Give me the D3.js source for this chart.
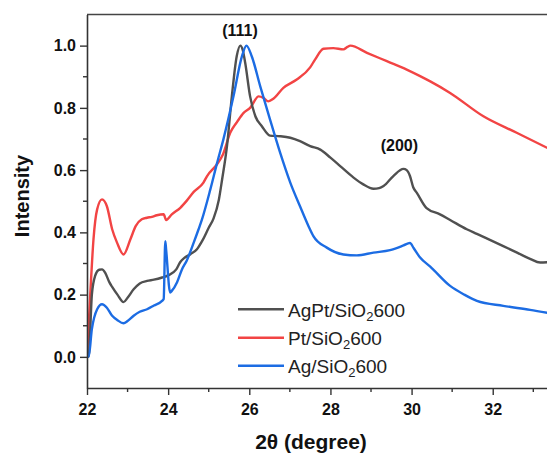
<!DOCTYPE html>
<html>
<head>
<meta charset="utf-8">
<script src="https://cdn.jsdelivr.net/npm/d3@7"></script>
<style>
  html, body { margin: 0; padding: 0; background: #fff; }
  svg { display: block; font-family: "Liberation Sans", Arial, sans-serif; }
</style>
</head>
<body>
<svg id="chart" width="547" height="455"></svg>
<script>
// XRD patterns (normalised intensity vs 2θ)
const agptX = [22.0, 22.04, 22.12, 22.2, 22.3, 22.37, 22.45, 22.55, 22.62, 22.75, 22.9, 23.0, 23.15, 23.3, 23.48, 23.65, 23.85, 24.0, 24.2, 24.3, 24.4, 24.55, 24.71, 24.85, 25.0, 25.12, 25.25, 25.33, 25.45, 25.57, 25.69, 25.78, 25.84, 25.9, 26.02, 26.15, 26.31, 26.51, 26.76, 27.01, 27.25, 27.5, 27.75, 28.0, 28.24, 28.57, 28.8, 29.06, 29.2, 29.31, 29.55, 29.8, 29.88, 29.96, 30.04, 30.13, 30.37, 30.7, 30.95, 31.36, 31.61, 32.26, 32.6, 32.92, 33.17, 33.4];
const agptY = [0.0, 0.0, 0.2, 0.26, 0.28, 0.281, 0.27, 0.24, 0.225, 0.2, 0.176, 0.19, 0.217, 0.236, 0.244, 0.248, 0.255, 0.262, 0.281, 0.305, 0.318, 0.33, 0.346, 0.375, 0.415, 0.445, 0.505, 0.57, 0.677, 0.837, 0.966, 1.0, 0.985, 0.944, 0.837, 0.773, 0.741, 0.711, 0.709, 0.704, 0.693, 0.677, 0.666, 0.64, 0.613, 0.576, 0.555, 0.54, 0.542, 0.549, 0.581, 0.604, 0.6, 0.581, 0.545, 0.527, 0.478, 0.458, 0.44, 0.41, 0.395, 0.356, 0.335, 0.315, 0.303, 0.305];

const ptX = [22.0, 22.08, 22.16, 22.25, 22.37, 22.49, 22.62, 22.74, 22.9, 23.07, 23.2, 23.35, 23.48, 23.6, 23.72, 23.89, 23.95, 24.09, 24.3, 24.46, 24.63, 24.87, 24.96, 25.2, 25.35, 25.53, 25.7, 25.86, 26.02, 26.23, 26.35, 26.47, 26.6, 26.84, 27.17, 27.5, 27.62, 27.83, 28.07, 28.32, 28.42, 28.49, 28.9, 29.39, 29.88, 30.21, 30.46, 30.95, 31.77, 32.59, 33.4];
const ptY = [0.0, 0.2, 0.378, 0.474, 0.506, 0.484, 0.41, 0.367, 0.329, 0.378, 0.42, 0.442, 0.447, 0.45, 0.455, 0.458, 0.44, 0.458, 0.479, 0.502, 0.53, 0.56, 0.581, 0.618, 0.65, 0.72, 0.755, 0.784, 0.8, 0.837, 0.832, 0.821, 0.83, 0.864, 0.891, 0.93, 0.955, 0.99, 0.992, 0.988, 0.996, 1.0, 0.977, 0.95, 0.923, 0.902, 0.885, 0.848, 0.773, 0.72, 0.668];

const agX = [22.0, 22.04, 22.12, 22.25, 22.37, 22.49, 22.62, 22.75, 22.9, 23.0, 23.15, 23.3, 23.48, 23.65, 23.85, 23.89, 23.93, 23.95, 24.05, 24.09, 24.22, 24.34, 24.46, 24.63, 24.75, 24.83, 25.04, 25.2, 25.36, 25.61, 25.82, 25.93, 26.06, 26.27, 26.51, 26.76, 27.01, 27.25, 27.46, 27.58, 27.91, 28.32, 28.65, 29.06, 29.47, 29.8, 29.96, 30.05, 30.21, 30.46, 30.95, 31.3, 31.61, 32.26, 32.92, 33.4];
const agY = [0.0, 0.0, 0.089, 0.153, 0.169, 0.158, 0.132, 0.118, 0.108, 0.115, 0.132, 0.145, 0.153, 0.165, 0.18, 0.186, 0.372, 0.345, 0.207, 0.212, 0.24, 0.281, 0.31, 0.367, 0.41, 0.44, 0.538, 0.62, 0.698, 0.837, 0.966, 1.0, 0.966, 0.869, 0.763, 0.656, 0.56, 0.484, 0.42, 0.388, 0.351, 0.329, 0.326, 0.335, 0.343, 0.358, 0.366, 0.35, 0.319, 0.29, 0.228, 0.2, 0.18, 0.164, 0.151, 0.14];

const seriesNames = ["AgPt/SiO|2|600", "Pt/SiO|2|600", "Ag/SiO|2|600"];
const seriesColors = ["#505050", "#f24444", "#1c6ce3"];

const xTicks = [22, 24, 26, 28, 30, 32];
const xMinorTicks = [23, 25, 27, 29, 31, 33];
const yTicks = [0.0, 0.2, 0.4, 0.6, 0.8, 1.0];
const yMinorTicks = [0.1, 0.3, 0.5, 0.7, 0.9];

const peakLabels = ["(111)", "(200)"];
const peakPos = [[25.77, 1.03], [29.7, 0.66]];

const svg = d3.select("#chart");
const plotLeft = 87, plotRight = 547.5, plotTop = 14.5, plotBottom = 388;

const x = d3.scaleLinear().domain([22, 33.35]).range([plotLeft, plotRight]);
const y = d3.scaleLinear().domain([-0.1, 1.1]).range([plotBottom, plotTop]);

svg.append("defs").append("clipPath").attr("id", "plotclip")
  .append("rect").attr("x", plotLeft).attr("y", plotTop)
  .attr("width", plotRight - plotLeft).attr("height", plotBottom - plotTop);

// frame: top border
svg.append("line")
  .attr("x1", plotLeft).attr("x2", 547).attr("y1", plotTop).attr("y2", plotTop)
  .attr("stroke", "#444").attr("stroke-width", 1.5);

// curves
const data = [
  d3.zip(agptX, agptY),
  d3.zip(ptX, ptY),
  d3.zip(agX, agY)
];
const line = d3.line().x(d => x(d[0])).y(d => y(d[1])).curve(d3.curveMonotoneX);
const g = svg.append("g").attr("clip-path", "url(#plotclip)");
// red first, then gray, then blue on top
[1, 0, 2].forEach(i => {
  g.append("path")
    .datum(data[i])
    .attr("d", line)
    .attr("fill", "none")
    .attr("stroke", seriesColors[i])
    .attr("stroke-width", 2.4)
    .attr("stroke-linejoin", "round");
});

// axes
const xAxis = d3.axisBottom(x).tickValues(xTicks).tickFormat(d3.format("d")).tickSize(7).tickSizeOuter(0).tickPadding(9);
const gx = svg.append("g").attr("transform", `translate(0,${plotBottom})`).call(xAxis);
const yAxis = d3.axisLeft(y).tickValues(yTicks).tickFormat(d3.format(".1f")).tickSize(7).tickSizeOuter(0).tickPadding(4);
const gy = svg.append("g").attr("transform", `translate(${plotLeft},0)`).call(yAxis);

[gx, gy].forEach(a => {
  a.select(".domain").attr("stroke", "#333").attr("stroke-width", 1.6);
  a.selectAll(".tick line").attr("stroke", "#333").attr("stroke-width", 1.4);
  a.selectAll(".tick text")
    .attr("fill", "#111")
    .style("font-family", "'Liberation Sans', Arial, sans-serif")
    .style("font-size", "16px")
    .style("font-weight", "bold");
});
gx.select(".domain").attr("d", `M${plotLeft},0.5H547`);

// minor ticks
svg.append("g").selectAll("line").data(xMinorTicks).join("line")
  .attr("x1", d => x(d)).attr("x2", d => x(d))
  .attr("y1", plotBottom).attr("y2", plotBottom + 4)
  .attr("stroke", "#333").attr("stroke-width", 1.4);
svg.append("g").selectAll("line").data(yMinorTicks).join("line")
  .attr("x1", plotLeft - 4).attr("x2", plotLeft)
  .attr("y1", d => y(d)).attr("y2", d => y(d))
  .attr("stroke", "#333").attr("stroke-width", 1.4);

// axis titles
svg.append("text")
  .attr("x", 311).attr("y", 449)
  .attr("text-anchor", "middle")
  .style("font-size", "21px").style("font-weight", "bold").attr("fill", "#111")
  .text("2θ (degree)");
svg.append("text")
  .attr("transform", "translate(29,196) rotate(-90)")
  .attr("text-anchor", "middle")
  .style("font-size", "20px").style("font-weight", "bold").attr("fill", "#111")
  .text("Intensity");

// peak labels
svg.append("g").selectAll("text").data(peakLabels).join("text")
  .attr("x", (d, i) => x(peakPos[i][0]))
  .attr("y", (d, i) => y(peakPos[i][1]))
  .attr("text-anchor", "middle")
  .style("font-size", "16px").style("font-weight", "bold").attr("fill", "#111")
  .text(d => d);

// legend
const legendRows = [309.3, 337.7, 365.7];
const lg = svg.append("g");
seriesNames.forEach((name, i) => {
  const yy = legendRows[i];
  lg.append("line")
    .attr("x1", 238).attr("x2", 284).attr("y1", yy).attr("y2", yy)
    .attr("stroke", seriesColors[i]).attr("stroke-width", 2.6);
  const parts = name.split("|");
  const t = lg.append("text")
    .attr("x", 288).attr("y", yy + 7.5)
    .style("font-size", "19px").attr("fill", "#222");
  t.append("tspan").text(parts[0]);
  t.append("tspan").attr("dy", 4).style("font-size", "13px").text(parts[1]);
  t.append("tspan").attr("dy", -4).text(parts[2]);
});
</script>
</body>
</html>
